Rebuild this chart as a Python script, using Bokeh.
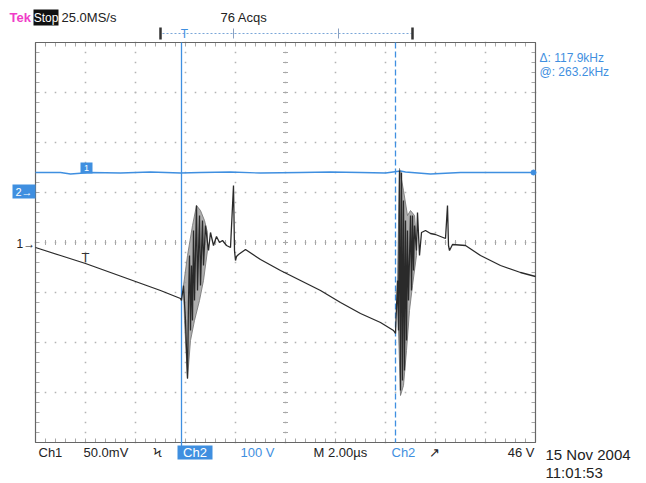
import numpy as np
from bokeh.plotting import figure
from bokeh.models import Range1d
from bokeh.core.properties import value
from bokeh.embed import file_html
from bokeh.resources import INLINE

# ---- data (screen divisions: x 0..10 = 2 us/div, y -4..4 divisions) ----
ch1_x = [0.00, 0.50, 1.00, 1.50, 2.00, 2.50, 2.90,
         2.92, 2.96, 3.00, 3.04, 3.06, 3.08, 3.10, 3.12, 3.14, 3.16, 3.18, 3.22, 3.24,
         3.28, 3.30, 3.34, 3.36, 3.40, 3.42, 3.46, 3.50, 3.56, 3.62, 3.68, 3.74, 3.82,
         3.90, 3.96, 3.98, 4.00, 4.02, 4.06,
         4.20, 4.50, 4.90, 5.30, 5.70, 6.10, 6.50, 6.90, 7.16,
         7.20, 7.24, 7.26, 7.28, 7.30, 7.32, 7.34, 7.36, 7.38, 7.40, 7.42, 7.44, 7.46,
         7.50, 7.52, 7.54, 7.56, 7.58, 7.62, 7.64, 7.68, 7.72, 7.80, 7.90, 8.00, 8.10,
         8.20, 8.24, 8.26, 8.28, 8.34, 8.60, 8.90, 9.30, 9.70, 10.00]
ch1_y = [-0.10, -0.26, -0.42, -0.60, -0.78, -0.96, -1.12,
         -1.16, -0.86, -1.56, -2.72, -1.16, -0.26, -1.76, -0.46, -1.56, 0.24, -1.16, 0.74, -0.96,
         0.54, -0.86, 0.44, -0.46, 0.34, 0.16, -0.16, 0.20, -0.06, 0.12, 0.00, 0.04, -0.06,
         -0.10, 1.14, -0.16, -0.36, -0.28, -0.24,
         -0.14, -0.34, -0.56, -0.76, -0.96, -1.20, -1.42, -1.60, -1.76,
         -1.82, -0.76, -1.76, 1.44, -2.96, 1.40, -2.76, 0.84, -2.56, 0.44, -1.96, 0.24, -1.16,
         0.54, -0.96, 0.54, -0.56, 0.34, -0.16, 0.60, -0.26, 0.20, 0.24, 0.18, 0.16, 0.12,
         0.08, 0.74, -0.06, -0.16, -0.04, -0.06, -0.26, -0.46, -0.60, -0.68]

# Ringing envelopes (shaded regions) for the two switching bursts
env1_x = [2.96, 3.04, 3.14, 3.22, 3.30, 3.38, 3.44, 3.44, 3.36, 3.28, 3.18, 3.10, 3.04, 2.98]
env1_y = [-0.86, -0.26, 0.34, 0.74, 0.64, 0.44, 0.20, -0.16, -0.76, -1.16, -1.56, -1.96, -2.72, -1.56]
env2_x = [7.24, 7.28, 7.36, 7.44, 7.50, 7.58, 7.62, 7.62, 7.54, 7.48, 7.42, 7.36, 7.30, 7.26]
env2_y = [-0.76, 1.48, 1.04, 0.54, 0.64, 0.54, 0.04, -0.26, -0.86, -1.36, -2.16, -2.86, -3.06, -1.76]

# Channel 2 (100 V/div) trace
ch2_x = [0.0, 0.5, 0.7, 1.1, 1.7, 2.3, 2.9, 3.3, 3.9, 4.5, 5.3, 5.9, 6.5, 7.0, 7.3, 7.4, 7.9, 8.5, 9.3, 10.0]
ch2_y = [1.40, 1.40, 1.37, 1.40, 1.39, 1.41, 1.39, 1.40, 1.41, 1.39, 1.40, 1.41, 1.40, 1.39, 1.43, 1.41, 1.37, 1.40, 1.40, 1.40]

# Cursor positions (divisions)
cursor_a = 2.92
cursor_b = 7.20

# ---- helpers for layout (pixels -> divisions) ----
def X(px):
    return (px - 35) / 50.0

def Y(py):
    return (242 - py) / 50.0

BLUE = "#3f8fe0"
INK = "#222222"
FONT = value("Liberation Sans")

p = figure(width=646, height=483, output_backend="svg", toolbar_location=None,
           x_range=Range1d(X(0), X(646)), y_range=Range1d(Y(483), Y(0)),
           min_border=0, min_border_left=0, min_border_right=0,
           min_border_top=0, min_border_bottom=0)
p.axis.visible = False
p.grid.visible = False
p.outline_line_color = None
p.background_fill_color = "white"
p.border_fill_color = "white"

# ---- graticule ----
gx, gy = [], []
for i in range(1, 10):
    for t in np.arange(0, 8.01, 0.2):
        gx.append(i); gy.append(-4 + t)
for j in range(1, 8):
    for t in np.arange(0, 10.01, 0.2):
        gx.append(t); gy.append(-4 + j)
p.scatter(gx, gy, marker="square", size=1.6, color="#b4b4b4", line_color=None)

# minor ticks on frame edges and central axes
tx0, ty0, tx1, ty1 = [], [], [], []
for t in np.arange(0, 10.01, 0.2):
    tx0 += [t, t, t]; tx1 += [t, t, t]
    ty0 += [4, -4, -0.05]; ty1 += [3.92, -3.92, 0.05]
for t in np.arange(0, 8.01, 0.2):
    v = -4 + t
    tx0 += [0, 10, 4.95]; tx1 += [0.08, 9.92, 5.05]
    ty0 += [v, v, v]; ty1 += [v, v, v]
p.segment(tx0, ty0, tx1, ty1, line_color="#a8a8a8", line_width=1)
p.rect([5], [0], width=10, height=8, fill_color=None, line_color="#666666", line_width=1.2)

# ---- cursors ----
p.segment([cursor_a], [4], [cursor_a], [Y(452)], line_color=BLUE, line_width=1.3)
p.segment([cursor_b], [4], [cursor_b], [-4], line_color=BLUE, line_width=1.3, line_dash="6 3")

# ---- traces ----
p.line(ch2_x, ch2_y, line_color=BLUE, line_width=1.3)
p.scatter([ch2_x[-1] - 0.04], [ch2_y[-1]], size=5, color=BLUE)

p.patch(env1_x, env1_y, fill_color="#9a9a9a", fill_alpha=0.8, line_color="#707070", line_width=0.8)
p.patch(env2_x, env2_y, fill_color="#9a9a9a", fill_alpha=0.8, line_color="#707070", line_width=0.8)
p.line(ch1_x, ch1_y, line_color="#2a2a2a", line_width=1.3)

# trigger-position marker on ch1
p.text([X(85)], [Y(257)], text=["T"], text_font=FONT, text_font_size="13px",
       text_color="#333333", text_align="center", text_baseline="middle")

# ---- left markers ----
p.quad(left=[X(80)], right=[X(92)], top=[Y(162)], bottom=[Y(173)], fill_color=BLUE, line_color=None)
p.text([X(86)], [Y(167.5)], text=["1"], text_font=FONT, text_font_size="9px",
       text_color="white", text_align="center", text_baseline="middle")
p.quad(left=[X(12)], right=[X(35)], top=[Y(184)], bottom=[Y(198)], fill_color=BLUE, line_color=None)
p.text([X(23.5)], [Y(191)], text=["2→"], text_font=FONT, text_font_size="11px",
       text_color="white", text_align="center", text_baseline="middle")
p.text([X(16)], [Y(243)], text=["1→"], text_font=FONT, text_font_size="12px",
       text_color=INK, text_align="left", text_baseline="middle")

# ---- top status line ----
p.text([X(9)], [Y(17)], text=["Tek"], text_font=FONT, text_font_size="13px",
       text_color="#f03cc8", text_font_style="bold", text_baseline="middle")
p.quad(left=[X(33)], right=[X(58)], top=[Y(9)], bottom=[Y(25)], fill_color="#111111", line_color=None)
p.text([X(45.5)], [Y(17)], text=["Stop"], text_font=FONT, text_font_size="12px",
       text_color="white", text_align="center", text_baseline="middle")
p.text([X(61), X(220)], [Y(17), Y(17)], text=["25.0MS/s", "76 Acqs"], text_font=FONT,
       text_font_size="13px", text_color=INK, text_baseline="middle")

# horizontal position bracket
p.segment([X(162)], [Y(33)], [X(411)], [Y(33)], line_color="#7aa6d8", line_width=1, line_dash="2 2")
p.segment([X(160), X(412)], [Y(27), Y(27)], [X(160), X(412)], [Y(39), Y(39)],
          line_color="#333333", line_width=2.5)
p.segment([X(233), X(338)], [Y(28), Y(28)], [X(233), X(338)], [Y(38), Y(38)],
          line_color="#8aa0c0", line_width=1)
p.text([X(184)], [Y(33)], text=["T"], text_font=FONT, text_font_size="12px",
       text_color=BLUE, text_align="center", text_baseline="middle")

# cursor readouts
p.text([X(539), X(539)], [Y(57), Y(71)], text=["Δ: 117.9kHz", "@: 263.2kHz"], text_font=FONT,
       text_font_size="12px", text_color=BLUE, text_baseline="middle")

# ---- bottom status line ----
p.text([X(38), X(83), X(153)], [Y(452)] * 3, text=["Ch1", "50.0mV", "Ϟ"], text_font=FONT,
       text_font_size="13px", text_color=INK, text_baseline="middle")
p.quad(left=[X(177)], right=[X(212)], top=[Y(445)], bottom=[Y(459)], fill_color=BLUE, line_color=None)
p.text([X(194.5)], [Y(452)], text=["Ch2"], text_font=FONT, text_font_size="13px",
       text_color="white", text_align="center", text_baseline="middle")
p.text([X(240)], [Y(452)], text=["100 V"], text_font=FONT, text_font_size="13px",
       text_color=BLUE, text_baseline="middle")
p.text([X(313)], [Y(452)], text=["M 2.00µs"], text_font=FONT, text_font_size="13px",
       text_color=INK, text_baseline="middle")
p.text([X(391)], [Y(452)], text=["Ch2"], text_font=FONT, text_font_size="13px",
       text_color=BLUE, text_baseline="middle")
p.text([X(428)], [Y(452)], text=["↗"], text_font=FONT,
       text_font_size="13px", text_color=INK, text_baseline="middle")
p.text([X(534)], [Y(452)], text=["46 V"], text_font=FONT, text_font_size="13px",
       text_color=INK, text_baseline="middle", text_align="right")
p.text([X(545), X(545)], [Y(454), Y(472)], text=["15 Nov 2004", "11:01:53"], text_font=FONT,
       text_font_size="15px", text_color=INK, text_baseline="middle")

open("out.html", "w").write(file_html(p, INLINE))
